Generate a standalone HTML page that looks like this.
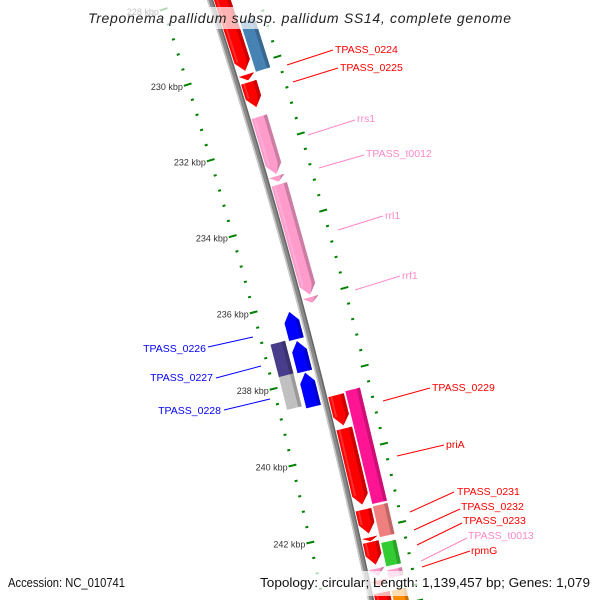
<!DOCTYPE html>
<html><head><meta charset="utf-8"><style>
html,body{margin:0;padding:0;background:#fff;width:600px;height:600px;overflow:hidden;}
svg{display:block;font-family:"Liberation Sans",sans-serif;overflow:hidden;}
</style></head><body>
<svg id="map" width="600" height="600" viewBox="0 0 600 600" xmlns="http://www.w3.org/2000/svg">
<rect x="0" y="0" width="600" height="600" fill="#fff"/>
<g id="ticks"></g>
<g id="backbone"></g>
<g id="genes"></g>
<g id="labels"></g>
<rect x="84" y="7" width="432" height="22" fill="#fff" fill-opacity="0.7"/>
<text x="88" y="23" font-size="14" font-style="italic" fill="#222" textLength="423" lengthAdjust="spacing">Treponema pallidum subsp. pallidum SS14, complete genome</text>
<rect x="255" y="571" width="340" height="25" fill="#fff" fill-opacity="0.7"/>
<text x="8" y="587" font-size="13" fill="#111" textLength="117" lengthAdjust="spacingAndGlyphs">Accession: NC_010741</text>
<text x="260" y="587" font-size="13" fill="#111" textLength="330" lengthAdjust="spacingAndGlyphs">Topology: circular; Length: 1,139,457 bp; Genes: 1,079</text>
</svg>
<script>
const CX=-5390, CY=1824, RAD=5889.6;
function ang(k){return (-17.32+(k-230)*0.3875)*Math.PI/180;}
function pt(k,r){const a=ang(k);return [CX+(RAD+r)*Math.cos(a), CY+(RAD+r)*Math.sin(a)];}
const NS="http://www.w3.org/2000/svg";

const geneNames=["g-top","g-small1","TPASS_0225","rrs1","TPASS_t0012","rrl1","rrf1","TPASS_0229","priA","TPASS_0231","TPASS_0232","TPASS_0233","TPASS_t0013","rpmG","g-bottom","TPASS_0224","g-pink2","g-salmon","g-green","g-pink3","g-orange","TPASS_0226-a","TPASS_0226","TPASS_0227","TPASS_0227-b","TPASS_0228"];
const geneStart=[227.0,230.2,230.4,231.3,232.85,233.07,236.0,238.54,239.4,241.49,242.2,242.32,243.0,243.3,243.62,228.9,238.5,241.46,242.4,243.1,243.62,236.22,236.98,237.8,236.9,237.75];
const geneEnd=[230.1,230.35,231.05,232.8,233.0,235.94,236.15,239.32,241.36,242.1,242.3,242.9,243.2,243.45,244.6,230.2,241.4,242.25,243.0,243.3,244.6,236.93,237.77,238.68,237.75,238.6];
const geneTrack=[1,1,1,1,1,1,1,1,1,1,1,1,1,1,1,2,2,2,2,2,2,-1,-1,-1,-2,-2];
const geneArrow=[1,1,1,1,1,1,1,1,1,1,1,1,1,1,1,0,0,0,0,0,0,-1,-1,-1,0,0];
const geneColor=["#ff0000","#ff0000","#ff0000","#ff9ccc","#ff9ccc","#ff9ccc","#ff9ccc","#ff0000","#ff0000","#ff0000","#ff0000","#ff0000","#ff9ccc","#ff5050","#ff0000","#4682b4","#ff1493","#f08080","#33cc33","#ff9ccc","#ff8c00","#0000ff","#0000ff","#0000ff","#483d8b","#c0c0c0"];
const tickKbp=[228,230,232,234,236,238,240,242,244];
const labelNames=["TPASS_0224","TPASS_0225","rrs1","TPASS_t0012","rrl1","rrf1","TPASS_0229","priA","TPASS_0231","TPASS_0232","TPASS_0233","TPASS_t0013","rpmG","TPASS_0226","TPASS_0227","TPASS_0228"];
const labelColor=["#f00","#f00","#ff88c8","#ff88c8","#ff88c8","#ff88c8","#f00","#f00","#f00","#f00","#f00","#ff88c8","#f00","#00f","#00f","#00f"];
const labelTextX=[335,340,357,366,385,402,432,446,457,461,463,468,471,206,213,221];
const labelTextY=[53,71,122,157,219,279,391,448,495,510,524,539,554,352,381,414];
const labelLine=[[287,65,333,50],[293,82,338,68],[308,135,355,120],[319,168,364,155],[338,230,383,216],[355,290,400,276],[383,401,430,388],[397,456,444,445],[410,512,454,492],[414,530,460,509],[417,545,462,523],[421,561,467,538],[422,567,470,551],[208,347,253,337],[216,378,261,366],[224,410,270,399]];

const trackR={1:[4,20],2:[22,37],"-1":[-20,-5],"-2":[-39,-24]};

function poly(g,pts,fill,name){
  const p=document.createElementNS(NS,"polygon");
  p.setAttribute("points",pts.map(q=>q[0].toFixed(2)+","+q[1].toFixed(2)).join(" "));
  p.setAttribute("fill",fill);
  
  
  g.appendChild(p);return p;
}
function shade(c,f){const n=parseInt(c.slice(1),16);let r=(n>>16)&255,g=(n>>8)&255,b=n&255;
  r=Math.round(r*f);g=Math.round(g*f);b=Math.round(b*f);return "rgb("+r+","+g+","+b+")";}

const tg=document.getElementById("ticks");
for(let k=226.8;k<=244.8;k+=0.4){
  const kk=Math.round(k*10)/10;
  const major=tickKbp.indexOf(kk)>=0;
  [-47,47].forEach(rc=>{
    const half=major?4:1.5;
    const a=pt(kk,rc-half), b=pt(kk,rc+half);
    const l=document.createElementNS(NS,"line");
    l.setAttribute("x1",a[0]);l.setAttribute("y1",a[1]);l.setAttribute("x2",b[0]);l.setAttribute("y2",b[1]);
    l.setAttribute("stroke","#008000");l.setAttribute("stroke-width","2");
    
    
    tg.appendChild(l);
  });
}
tickKbp.forEach(k=>{
  const p=pt(k,-52);
  if(p[1]>590)return;
  const t=document.createElementNS(NS,"text");
  t.setAttribute("x",p[0]);t.setAttribute("y",p[1]+4);t.setAttribute("text-anchor","end");
  t.setAttribute("font-size","9");t.setAttribute("fill","#333");
  t.textContent=k+" kbp";
  
  
  tg.appendChild(t);
});

const bg=document.getElementById("backbone");
function band(r1,r2,col,name){const pts=[];for(let k=226;k<=244.5;k+=0.5)pts.push(pt(k,r1));for(let k=244.5;k>=226;k-=0.5)pts.push(pt(k,r2));poly(bg,pts,col,name);}
band(-3,3,"#8a8a8a","backbone-line");
band(-3,-1.5,"#c8c8c8","backbone-highlight");
band(1.5,3,"#666","backbone-shadow");

const gg=document.getElementById("genes");
geneNames.forEach((nm,i)=>{
  const [r1,r2]=trackR[geneTrack[i]];
  const k1=geneStart[i],k2=geneEnd[i],dir=geneArrow[i];
  const rm=(r1+r2)/2;
  const h=Math.min(0.25,k2-k1);
  let pts;
  if(dir===1){pts=[pt(k1,r1),pt(k1,r2),pt(k2-h,r2),pt(k2,rm),pt(k2-h,r1)];}
  else if(dir===-1){pts=[pt(k2,r1),pt(k2,r2),pt(k1+h,r2),pt(k1,rm),pt(k1+h,r1)];}
  else {pts=[pt(k1,r1),pt(k1,r2),pt(k2,r2),pt(k2,r1)];}
  poly(gg,pts,geneColor[i],"gene-"+nm.toLowerCase());
  const s1=r2-3.5;
  let sp;
  if(dir===1){sp=[pt(k1,s1),pt(k1,r2),pt(k2-h,r2),pt(k2-h*0.15,rm+(r2-rm)*0.15),pt(k2-h,s1)];}
  else if(dir===-1){sp=[pt(k2,s1),pt(k2,r2),pt(k1+h,r2),pt(k1+h,s1)];}
  else {sp=[pt(k1,s1),pt(k1,r2),pt(k2,r2),pt(k2,s1)];}
  poly(gg,sp,shade(geneColor[i],0.8),"gene-side-"+nm.toLowerCase());
  if(dir===1 && k2-k1>0.5){poly(gg,[pt(k1,r1+2),pt(k1,r1+4),pt(k2-h,r1+4),pt(k2-h,r1+2)],"rgba(255,255,255,0.18)","gene-highlight-"+nm.toLowerCase());}
});

const lg=document.getElementById("labels");
labelNames.forEach((nm,i)=>{
  const L=labelLine[i];
  const l=document.createElementNS(NS,"line");
  l.setAttribute("x1",L[0]);l.setAttribute("y1",L[1]);l.setAttribute("x2",L[2]);l.setAttribute("y2",L[3]);
  l.setAttribute("stroke",labelColor[i]);l.setAttribute("stroke-width","1");
  
  
  lg.appendChild(l);
  const t=document.createElementNS(NS,"text");
  t.setAttribute("x",labelTextX[i]);t.setAttribute("y",labelTextY[i]);
  t.setAttribute("font-size","10.5");t.setAttribute("fill",labelColor[i]);
  if(i>=13)t.setAttribute("text-anchor","end");
  t.textContent=nm;
  
  
  lg.appendChild(t);
});
</script>
</body></html>
